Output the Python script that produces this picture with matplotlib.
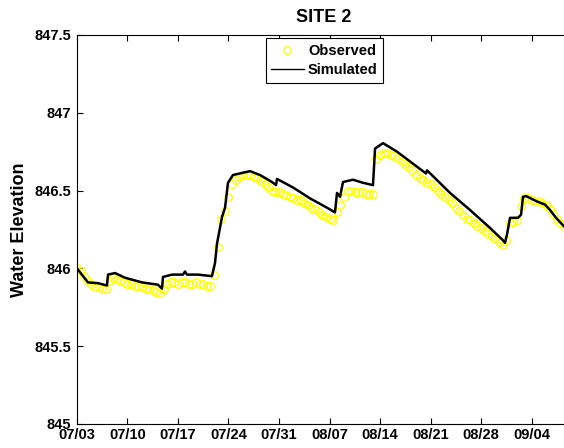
import numpy as np
import matplotlib.pyplot as plt

plt.rcParams['font.family'] = ['Liberation Sans', 'DejaVu Sans']
plt.rcParams['font.weight'] = 'bold'

# days since 07/03
tick_days = [0, 7, 14, 21, 28, 35, 42, 49, 56, 63]
tick_labels = ['07/03', '07/10', '07/17', '07/24', '07/31',
               '08/07', '08/14', '08/21', '08/28', '09/04']
y_ticks = [845, 845.5, 846, 846.5, 847, 847.5]
y_tick_labels = ['845', '845.5', '846', '846.5', '847', '847.5']

# observed water elevation, every half day
obs_day = np.arange(0, 68, 0.5)
obs_elev = [
    846.00, 845.98, 845.95, 845.92, 845.90, 845.88, 845.88, 845.87, 845.87, 845.92,
    845.94, 845.93, 845.92, 845.91, 845.90, 845.90, 845.89, 845.89, 845.88, 845.87,
    845.87, 845.86, 845.85, 845.84, 845.87, 845.90, 845.91, 845.91, 845.90, 845.91,
    845.91, 845.90, 845.90, 845.91, 845.90, 845.90, 845.89, 845.89, 845.96, 846.14,
    846.32, 846.37, 846.46, 846.54, 846.57, 846.59, 846.60, 846.60, 846.60, 846.59,
    846.58, 846.56, 846.54, 846.52, 846.50, 846.49, 846.49, 846.48, 846.47, 846.46,
    846.45, 846.44, 846.44, 846.42, 846.41, 846.39, 846.38, 846.36, 846.34, 846.33,
    846.32, 846.31, 846.36, 846.41, 846.46, 846.50, 846.50, 846.49, 846.49, 846.49,
    846.48, 846.48, 846.48, 846.70, 846.73, 846.74, 846.74, 846.73, 846.72, 846.71,
    846.69, 846.67, 846.65, 846.63, 846.60, 846.58, 846.57, 846.55, 846.54, 846.52,
    846.50, 846.48, 846.46, 846.44, 846.42, 846.39, 846.37, 846.34, 846.32, 846.31,
    846.29, 846.27, 846.26, 846.24, 846.22, 846.21, 846.19, 846.17, 846.15, 846.18,
    846.29, 846.30, 846.31, 846.40, 846.45, 846.45, 846.44, 846.43, 846.43, 846.42,
    846.41, 846.38, 846.35, 846.32, 846.29, 846.27,
]

# simulated water elevation
sim_day = [
    0.00, 1.52, 2.91, 4.16, 4.30, 5.27, 6.65, 9.01, 11.23, 11.78,
    11.92, 13.17, 14.69, 14.97, 15.25, 16.77, 18.71, 19.13, 19.41, 20.10,
    20.52, 20.93, 21.62, 23.98, 25.37, 27.03, 27.59, 27.72, 29.94, 32.30,
    34.65, 35.76, 36.04, 36.46, 36.87, 38.26, 39.65, 41.03, 41.31, 42.42,
    44.36, 48.38, 48.52, 51.71, 54.48, 57.25, 59.05, 59.33, 59.61, 60.02,
    61.13, 61.55, 61.82, 62.24, 63.76, 64.87, 65.57, 66.40, 67.51,
]
sim_elev = [
    846.00, 845.91, 845.905, 845.89, 845.96, 845.97, 845.94, 845.91, 845.895, 845.87,
    845.945, 845.96, 845.96, 845.98, 845.96, 845.96, 845.95, 846.035, 846.16, 846.33,
    846.39, 846.55, 846.60, 846.625, 846.60, 846.555, 846.535, 846.575, 846.52, 846.45,
    846.39, 846.36, 846.485, 846.46, 846.555, 846.57, 846.55, 846.535, 846.77, 846.805,
    846.75, 846.61, 846.63, 846.485, 846.375, 846.26, 846.18, 846.165, 846.22, 846.325,
    846.325, 846.345, 846.46, 846.465, 846.43, 846.41, 846.375, 846.325, 846.27,
]

fig = plt.figure(figsize=(5.64, 4.48), dpi=100)
ax = fig.add_axes([0.1365, 0.0536, 0.876, 0.8683])

ax.plot(obs_day, obs_elev, 'o', color='#ffff00', mfc='none', ms=5.5, mew=0.9,
        label='Observed')
ax.plot(sim_day, sim_elev, '-', color='black', lw=1.8, label='Simulated')

ax.set_xlim(0, 68.48)
ax.set_ylim(845, 847.5)
ax.set_xticks(tick_days)
ax.set_xticklabels(tick_labels)
ax.set_yticks(y_ticks)
ax.set_yticklabels(y_tick_labels)

ax.tick_params(axis='both', direction='in', length=4, width=0.8,
               labelsize=10.5, top=True, right=False)
ax.tick_params(axis='x', pad=3)
ax.tick_params(axis='y', pad=4)
for s in ax.spines.values():
    s.set_linewidth(0.8)
ax.spines['right'].set_visible(False)

ax.set_title('SITE 2', fontsize=13, fontweight='bold', pad=9)
ax.set_ylabel('Water Elevation', fontsize=13, fontweight='bold')
ax.yaxis.set_label_coords(-0.100, 0.5)

leg = ax.legend(loc='upper center', bbox_to_anchor=(0.5754, 0.9152),
                bbox_transform=fig.transFigure, numpoints=1, fancybox=False,
                edgecolor='black', framealpha=1, fontsize=10.5,
                handlelength=2.2, handletextpad=0.3, borderpad=0.4,
                labelspacing=0.35, borderaxespad=0)
leg.get_frame().set_linewidth(0.8)
for h in leg.legend_handles:
    if h.get_label() == 'Simulated':
        h.set_linewidth(1.0)

fig.savefig('out.png', dpi=100)
